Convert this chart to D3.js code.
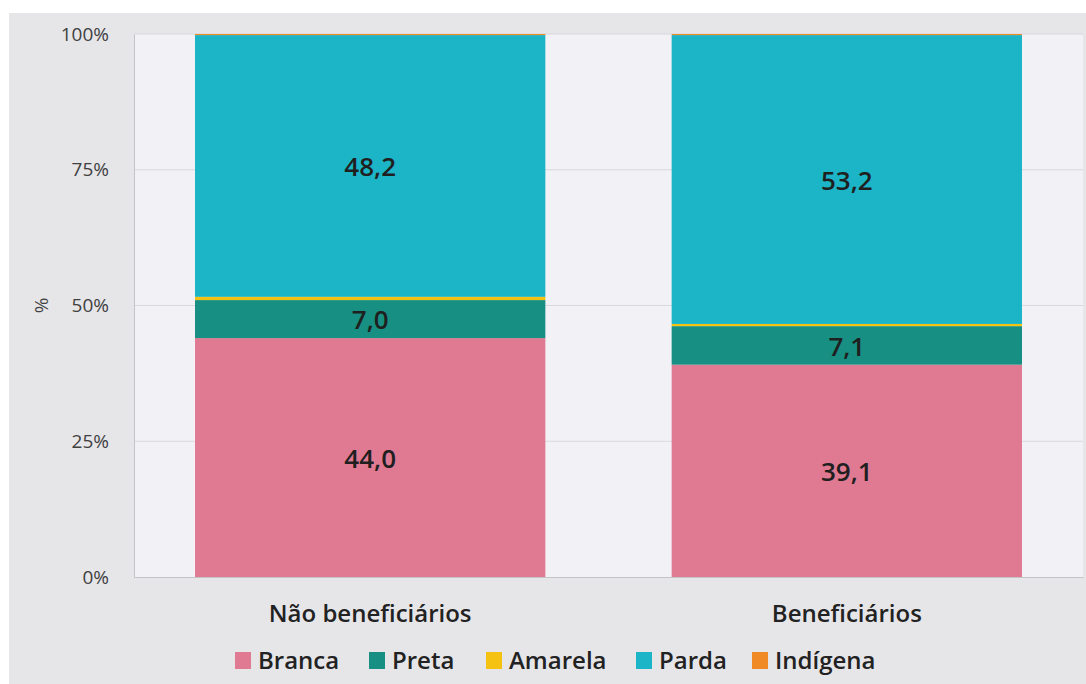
<!DOCTYPE html>
<html><head><meta charset="utf-8">
<script src="https://cdn.jsdelivr.net/npm/d3@7"></script>
<style>
html,body{margin:0;padding:0;background:#fff;}
svg{display:block;font-family:"Open Sans",sans-serif;}
</style></head>
<body><svg id="c" width="1086" height="684"></svg>
<script>
const categories = ["Não beneficiários", "Beneficiários"];
const seriesNames = ["Branca", "Preta", "Amarela", "Parda", "Indígena"];
const branca = [44.0, 39.1];
const preta = [7.0, 7.1];
const amarela = [0.6, 0.4];
const parda = [48.2, 53.2];
const indigena = [0.2, 0.2];
const colors = ["#e07a93", "#178f82", "#f5c211", "#1cb5c7", "#f08a24"];
const yTicks = [0, 25, 50, 75, 100];
const labeled = ["Branca", "Preta", "Parda"];

const svg = d3.select("#c");
const W = 1086, H = 684;
const m = {left: 134, right: 3, top: 34, bottom: 107};

svg.append("rect").attr("x", 9).attr("y", 13).attr("width", W - 9).attr("height", H - 13).attr("fill", "#e6e6e9");
svg.append("rect").attr("x", m.left).attr("y", m.top).attr("width", W - m.left - m.right).attr("height", H - m.top - m.bottom).attr("fill", "#f1f1f6");

const x = d3.scaleBand().domain(categories).range([m.left, W - m.right]).paddingInner(0.265).paddingOuter(0.128);
const y = d3.scaleLinear().domain([0, 100]).range([H - m.bottom, m.top]);

// gridlines
svg.append("g").selectAll("line").data(yTicks.filter(d => d > 0)).join("line")
  .attr("x1", m.left).attr("x2", W - m.right)
  .attr("y1", d => y(d)).attr("y2", d => y(d))
  .attr("stroke", "#d8d8dd").attr("stroke-width", 1);

const rows = categories.map((c, i) => ({
  cat: c, Branca: branca[i], Preta: preta[i], Amarela: amarela[i], Parda: parda[i], "Indígena": indigena[i]
}));
const stacked = d3.stack().keys(seriesNames)(rows);

const g = svg.append("g");
stacked.forEach((s, si) => {
  g.append("g").attr("fill", colors[si]).selectAll("rect").data(s).join("rect")
    .attr("x", d => x(d.data.cat))
    .attr("width", x.bandwidth())
    .attr("y", d => y(d[1]))
    .attr("height", d => y(d[0]) - y(d[1]));
});

// labels
stacked.forEach(s => {
  if (!labeled.includes(s.key)) return;
  g.append("g").selectAll("text").data(s).join("text")
    .attr("x", d => x(d.data.cat) + x.bandwidth() / 2)
    .attr("y", d => (y(d[0]) + y(d[1])) / 2)
    .attr("dy", "0.4em")
    .attr("text-anchor", "middle")
    .attr("font-size", 26).attr("font-weight", 600).attr("fill", "#1f1f1f")
    .text(d => d3.format(".1f")(d[1] - d[0]).replace(".", ","));
});

// axes
const yAxis = d3.axisLeft(y).tickValues(yTicks).tickSize(0).tickPadding(25).tickFormat(d => d + "%");
const ya = svg.append("g").attr("transform", `translate(${m.left},0)`).call(yAxis);
ya.select(".domain").attr("stroke", "#c4c4c8");
ya.selectAll("text").attr("font-size", 19).attr("fill", "#404040").attr("font-family", "Open Sans");

const xAxis = d3.axisBottom(x).tickSize(0).tickPadding(28);
const xa = svg.append("g").attr("transform", `translate(0,${H - m.bottom})`).call(xAxis);
xa.select(".domain").attr("stroke", "#c4c4c8");
xa.selectAll("text").attr("font-size", 24).attr("font-weight", 600).attr("fill", "#222").attr("font-family", "Open Sans");

svg.append("text").attr("transform", `translate(48,${y(50)}) rotate(-90)`)
  .attr("text-anchor", "middle").attr("font-size", 19).attr("fill", "#404040").text("%");

// legend
const legX = [235, 369, 486, 636, 752];
const lg = svg.append("g");
seriesNames.forEach((n, i) => {
  lg.append("rect").attr("x", legX[i]).attr("y", 652).attr("width", 16).attr("height", 17).attr("fill", colors[i]);
  lg.append("text").attr("x", legX[i] + 23).attr("y", 669)
    .attr("font-size", 24).attr("font-weight", 600).attr("fill", "#222").text(n);
});
</script></body></html>
